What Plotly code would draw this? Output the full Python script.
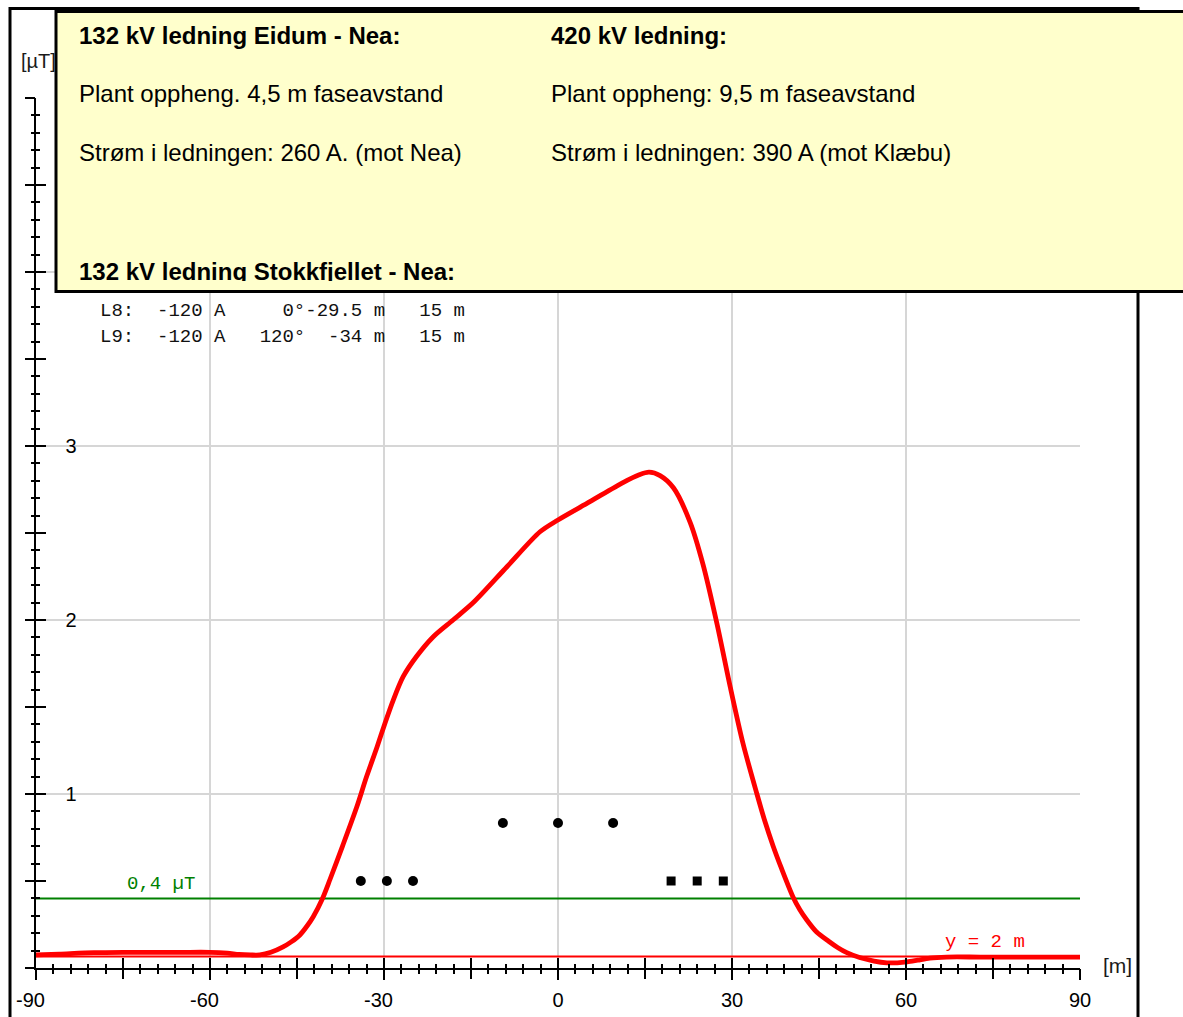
import plotly.graph_objects as go

W, H = 1183, 1017

# Magnetic flux density 2 m above ground across the corridor
dist_m = [-90, -86, -80, -75, -70, -65, -60, -57, -55, -53, -51.4, -49.5, -47.4, -46, -44.5,
          -43.3, -42.2, -40.6, -39.3, -37.1, -34.7, -33, -31.2, -29.8, -28.4, -26.7, -24.4,
          -21.5, -18.1, -14.6, -8.8, -3.1, 0, 5.5, 11.2, 14, 15.7, 17.6, 19.9, 22.8, 25, 27.4,
          29.7, 31.9, 34.3, 35.7, 37.1, 38.5, 40.5, 41.7, 42.9, 44.5, 46.6, 48.2, 49.8, 52,
          54.5, 56.7, 58.5, 60.2, 62, 64.1, 67, 72.8, 80, 90]
flux_uT = [0.075, 0.08, 0.088, 0.09, 0.09, 0.09, 0.09, 0.085, 0.078, 0.075, 0.075, 0.09, 0.121,
           0.15, 0.19, 0.24, 0.295, 0.40, 0.51, 0.705, 0.925, 1.10, 1.27, 1.41, 1.54, 1.674,
           1.79, 1.904, 2.0, 2.10, 2.306, 2.507, 2.575, 2.68, 2.79, 2.835, 2.85, 2.83, 2.76,
           2.56, 2.32, 1.98, 1.615, 1.29, 1.0, 0.84, 0.70, 0.575, 0.41, 0.335, 0.276, 0.21,
           0.155, 0.118, 0.088, 0.06, 0.04, 0.03, 0.03, 0.035, 0.045, 0.057, 0.063, 0.063,
           0.063, 0.063]

# Conductor positions: horizontal offset and height above ground (m)
stokk_x = [-34, -29.5, -25]
stokk_h = [15, 15, 15]
kv420_x = [-9.5, 0, 9.5]
kv420_h = [25, 25, 25]
eidum_x = [19.5, 24, 28.5]
eidum_h = [15, 15, 15]

# Geometry shares the field axes: 30 m of height per 1 µT grid unit
M_PER_UT = 30.0

LIMIT_UT = 0.4       # 0,4 µT reference level
CALC_HEIGHT_M = 2    # calculation height

x_ticks = [-90, -60, -30, 0, 30, 60, 90]
y_ticks = [1, 2, 3, 4, 5]

phase_rows = [
    "L8:  -120 A     0°-29.5 m   15 m",
    "L9:  -120 A   120°  -34 m   15 m",
]

left_block = [
    ("<b>132 kV ledning Eidum - Nea:</b>", 36),
    ("Plant oppheng. 4,5 m faseavstand", 94),
    ("Strøm i ledningen: 260 A. (mot Nea)", 152.5),
]
right_block = [
    ("<b>420 kV ledning:</b>", 36),
    ("Plant oppheng: 9,5 m faseavstand", 94),
    ("Strøm i ledningen: 390 A (mot Klæbu)", 152.5),
]
clipped_heading = "<b>132 kV ledning Stokkfjellet - Nea:</b>"

# Plot area in pixels
L, R, T, B = 36, 1080, 98, 968


def px(x):
    return (x - L) / (R - L)


def py(y):
    return (B - y) / (B - T)


SANS = "Liberation Sans, Arial, sans-serif"
MONO = "Liberation Mono, Courier New, monospace"

fig = go.Figure()

x_lo, x_hi = dist_m[0], dist_m[-1]

fig.add_trace(go.Scatter(x=[x_lo, x_hi], y=[LIMIT_UT, LIMIT_UT], mode="lines",
                         line=dict(color="#008000", width=2), hoverinfo="skip"))
h_line = CALC_HEIGHT_M / M_PER_UT
fig.add_trace(go.Scatter(x=[x_lo, x_hi], y=[h_line, h_line], mode="lines",
                         line=dict(color="#ff0000", width=2), hoverinfo="skip"))
fig.add_trace(go.Scatter(x=dist_m, y=flux_uT, mode="lines",
                         line=dict(color="#ff0000", width=4.8, shape="spline", smoothing=0.8),
                         hoverinfo="skip"))
fig.add_trace(go.Scatter(x=stokk_x + kv420_x, y=[h / M_PER_UT for h in stokk_h + kv420_h],
                         mode="markers", marker=dict(color="black", size=10, symbol="circle"),
                         hoverinfo="skip"))
fig.add_trace(go.Scatter(x=eidum_x, y=[h / M_PER_UT for h in eidum_h],
                         mode="markers", marker=dict(color="black", size=9, symbol="square"),
                         hoverinfo="skip"))

# placeholder traces so the tick-only overlay axes are drawn
for xa, ya in [("x2", "y"), ("x3", "y"), ("x", "y2"), ("x", "y3"), ("x", "y4")]:
    fig.add_trace(go.Scatter(x=[None], y=[None], xaxis=xa, yaxis=ya, hoverinfo="skip"))

tick_font = dict(family=SANS, size=20, color="black")
ticktext = [(f"{v}\u00a0\u00a0" if v < 0 else str(v)) for v in x_ticks]

tick_axis = dict(showticklabels=False, showgrid=False, zeroline=False, showline=False,
                 automargin=False, tickcolor="black", tickwidth=2, ticklen=10)

fig.update_layout(
    width=W, height=H,
    margin=dict(l=L, r=W - R, t=T, b=H - B, autoexpand=False),
    paper_bgcolor="white", plot_bgcolor="white",
    showlegend=False,
    xaxis=dict(range=[-90, 90], tickvals=x_ticks, ticktext=ticktext, tickfont=tick_font,
               showgrid=True, gridcolor="#d6d6d6", gridwidth=2, zeroline=False,
               showline=True, linecolor="black", linewidth=2,
               ticks="outside", ticklen=10, tickwidth=2, tickcolor="black",
               ticklabelstandoff=3, automargin=False, fixedrange=True),
    xaxis2=dict(range=[-90, 90], overlaying="x", anchor="y", side="bottom",
                tickmode="linear", tick0=-90, dtick=15, ticks="outside",
                minor=dict(tick0=-90, dtick=3, ticks="outside", ticklen=5, tickwidth=2,
                           tickcolor="black", showgrid=False), **tick_axis),
    xaxis3=dict(range=[-90, 90], overlaying="x", anchor="y", side="bottom",
                tickmode="linear", tick0=-90, dtick=15, ticks="inside",
                minor=dict(tick0=-90, dtick=3, ticks="inside", ticklen=4, tickwidth=2,
                           tickcolor="black", showgrid=False), **tick_axis),
    yaxis=dict(range=[0, 5], tickvals=y_ticks, showticklabels=False, ticks="",
               showgrid=True, gridcolor="#d6d6d6", gridwidth=2,
               zeroline=False, showline=True, linecolor="black", linewidth=2,
               automargin=False, fixedrange=True),
    yaxis2=dict(range=[0, 5], overlaying="y", anchor="x", side="left",
                tickmode="linear", tick0=0, dtick=0.5, ticks="outside",
                minor=dict(tick0=0, dtick=0.1, ticks="outside", ticklen=4, tickwidth=2,
                           tickcolor="black", showgrid=False), **tick_axis),
    yaxis3=dict(range=[0, 5], overlaying="y", anchor="x", side="left",
                tickmode="linear", tick0=0, dtick=0.5, ticks="inside",
                minor=dict(tick0=0, dtick=0.1, ticks="inside", ticklen=4, tickwidth=2,
                           tickcolor="black", showgrid=False), **tick_axis),
    # value labels sit just right of the axis line
    yaxis4=dict(range=[0, 5], overlaying="y", anchor="free", position=px(76.5), side="left",
                tickvals=y_ticks, ticktext=[str(v) for v in y_ticks], tickfont=tick_font,
                ticks="", ticklabelstandoff=0,
                showgrid=False, zeroline=False, showline=False, automargin=False),
)

# outer frame and the info box on top of it
fig.add_shape(type="rect", xref="paper", yref="paper",
              x0=px(10), x1=px(1138), y0=py(1030), y1=py(8.5),
              line=dict(color="black", width=3), fillcolor="rgba(0,0,0,0)", layer="above")
fig.add_shape(type="rect", xref="paper", yref="paper",
              x0=px(56), x1=px(1200), y0=py(291.5), y1=py(11.5),
              line=dict(color="black", width=3), fillcolor="#ffffcc", layer="above")

# unit labels
fig.add_annotation(xref="paper", yref="paper", x=px(20), y=py(61), text="[µT]",
                   showarrow=False, xanchor="left", yanchor="middle",
                   font=dict(family=SANS, size=20, color="#1a1a1a"), borderpad=0)
fig.add_annotation(xref="paper", yref="paper", x=px(1117), y=py(965), text="[m]",
                   showarrow=False, xanchor="center", yanchor="middle",
                   font=dict(family=SANS, size=21, color="#1a1a1a"), borderpad=0)

box_font = dict(family=SANS, size=24, color="black")
for text, yc in left_block:
    fig.add_annotation(xref="paper", yref="paper", x=px(78), y=py(yc), text=text,
                       showarrow=False, xanchor="left", yanchor="middle", font=box_font,
                       borderpad=0)
for text, yc in right_block:
    fig.add_annotation(xref="paper", yref="paper", x=px(550), y=py(yc), text=text,
                       showarrow=False, xanchor="left", yanchor="middle", font=box_font,
                       borderpad=0)
fig.add_annotation(xref="paper", yref="paper", x=px(78), y=py(257), text=clipped_heading,
                   showarrow=False, xanchor="left", yanchor="top", valign="top",
                   height=23, font=box_font, borderpad=0)

mono_font = dict(family=MONO, size=19, color="#111111")
for i, row in enumerate(phase_rows):
    fig.add_annotation(xref="paper", yref="paper", x=px(99), y=py(311 + 26 * i),
                       text=row.replace(" ", "\u00a0"), showarrow=False,
                       xanchor="left", yanchor="middle", font=mono_font, borderpad=0)

fig.add_annotation(x=-74.5, y=LIMIT_UT, text="0,4\u00a0µT", showarrow=False,
                   xanchor="left", yanchor="bottom", yshift=2,
                   font=dict(family=MONO, size=19, color="#008000"), borderpad=0)
fig.add_annotation(x=66.5, y=h_line, text="y\u00a0=\u00a02\u00a0m", showarrow=False,
                   xanchor="left", yanchor="bottom", yshift=2,
                   font=dict(family=MONO, size=19, color="#ff0000"), borderpad=0)

fig.write_html("out.html")
